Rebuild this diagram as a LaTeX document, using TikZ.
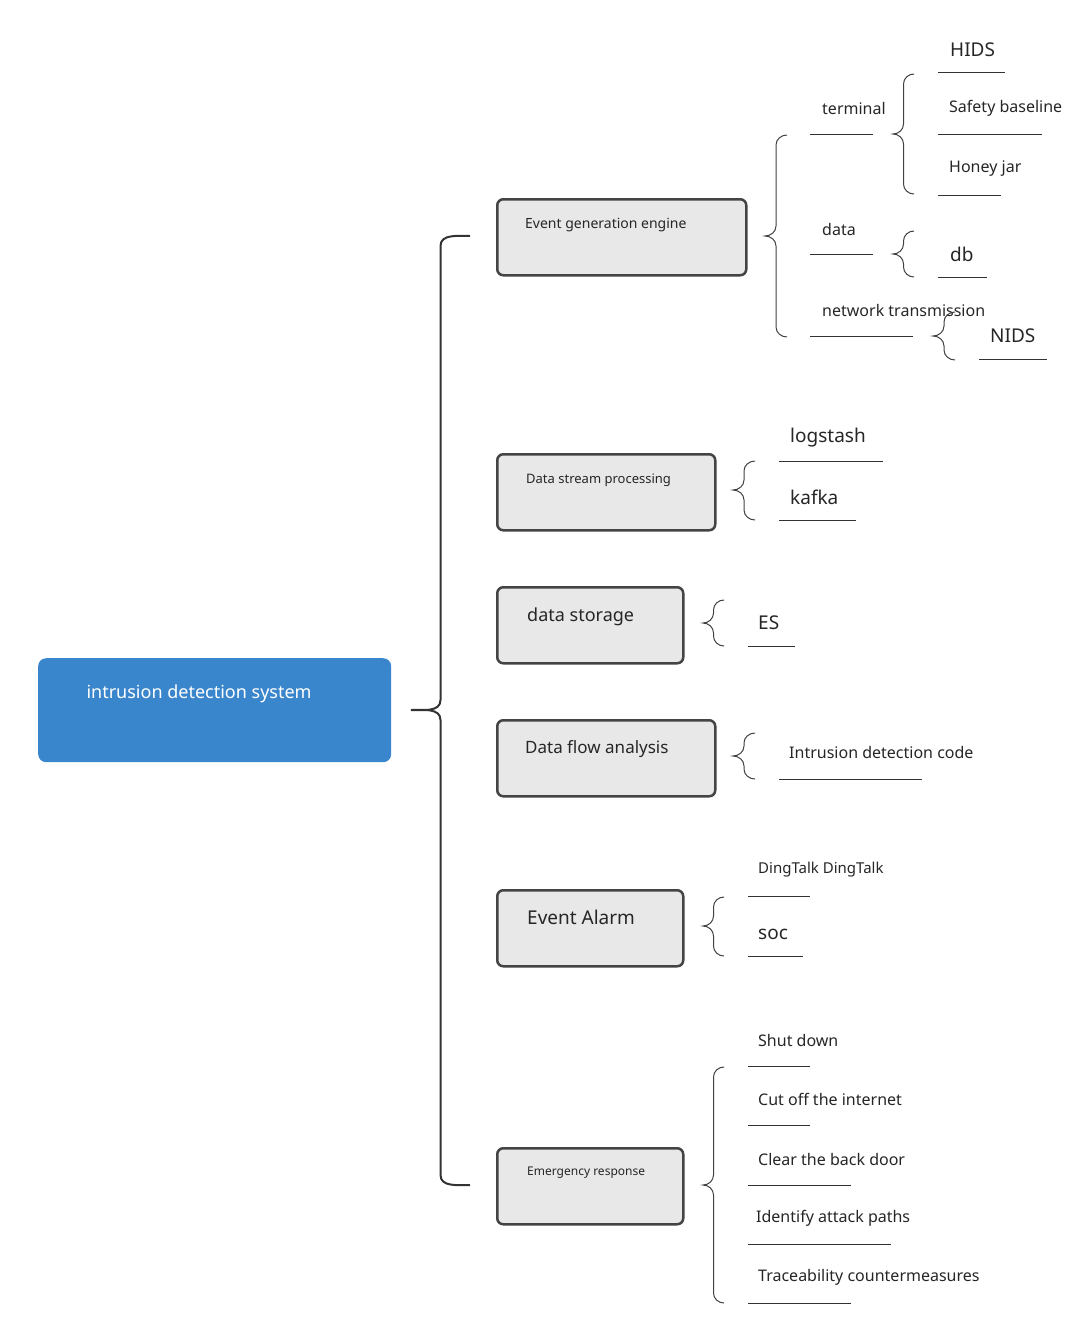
\documentclass[tikz,border=0pt]{standalone}
\usepackage{fontspec}
\setmainfont{Noto Sans}
\usetikzlibrary{positioning}
\definecolor{rootblue}{HTML}{3A86CC}
\definecolor{boxgray}{HTML}{E8E8E8}
\definecolor{linegray}{HTML}{444444}
\tikzset{
  topic/.style={draw=linegray,line width=2.5pt,fill=boxgray,rounded corners=6pt,anchor=north west,inner sep=0pt},
  leaf/.style={anchor=west,inner sep=0pt,text=black!85},
  uline/.style={draw=black!80,line width=1pt},
  brc/.style={draw=black!75,line width=1pt}
}
% curly brace: tip x, arms x, top y, bottom y, middle y
\newcommand{\brc}[6][brc]{%
  \pgfmathsetmacro{\xm}{(#2+#3)/2}%
  \draw[#1] (#3,#4) to[out=180,in=90] (\xm,#4+10) -- (\xm,#6-10)
    to[out=-90,in=0] (#2,#6) to[out=0,in=90] (\xm,#6+10) -- (\xm,#5-10)
    to[out=-90,in=180] (#3,#5);}
\begin{document}
\begin{tikzpicture}[x=1pt,y=-1pt]
\useasboundingbox (0,0) rectangle (1080,1323);
% root
\node[fill=rootblue,rounded corners=8pt,minimum width=353pt,minimum height=104pt,anchor=north west] (root) at (38,658) {};
\node[anchor=west,text=white,font=\fontsize{18}{20}\selectfont] at (83,694) {intrusion detection system};
\brc[brc,draw=black!80,line width=2pt]{411}{470}{236}{1185}{710}
% topics
\node[topic,minimum width=249pt,minimum height=76pt] (eng) at (496,198) {};
\node[leaf,font=\fontsize{14}{16}\selectfont] at (525,225) {Event generation engine};
\node[topic,minimum width=218pt,minimum height=76pt] (stream) at (496,453) {};
\node[leaf,font=\fontsize{13}{15}\selectfont] at (526,480) {Data stream processing};
\node[topic,minimum width=186pt,minimum height=76pt] (store) at (496,586) {};
\node[leaf,font=\fontsize{18}{20}\selectfont] at (527,617) {data storage};
\node[topic,minimum width=218pt,minimum height=76pt] (flow) at (496,719) {};
\node[leaf,font=\fontsize{17}{19}\selectfont] at (525,749) {Data flow analysis};
\node[topic,minimum width=186pt,minimum height=76pt] (alarm) at (496,889) {};
\node[leaf,font=\fontsize{19}{21}\selectfont] at (527,917) {Event Alarm};
\node[topic,minimum width=186pt,minimum height=76pt] (resp) at (496,1147) {};
\node[leaf,font=\fontsize{12}{14}\selectfont] at (527,1173) {Emergency response};
% event generation engine
\brc{765}{787}{135}{337}{236}
\node[leaf,font=\fontsize{16}{18}\selectfont] (term) at (822,108) {terminal};
\draw[uline] (810,134) -- (873,134);
\node[leaf,font=\fontsize{16}{18}\selectfont] (data) at (822,229) {data};
\draw[uline] (810,254) -- (873,254);
\node[leaf,font=\fontsize{16}{18}\selectfont] (net) at (822,310) {network transmission};
\draw[uline] (810,336) -- (913,336);
\brc{893}{914}{74}{194}{134}
\node[leaf,font=\fontsize{19}{21}\selectfont] (hids) at (950,50) {HIDS};
\draw[uline] (938,72) -- (1005,72);
\node[leaf,font=\fontsize{16}{18}\selectfont] (base) at (949,108) {Safety baseline};
\draw[uline] (938,134) -- (1042,134);
\node[leaf,font=\fontsize{16}{18}\selectfont] (honey) at (949,169) {Honey jar};
\draw[uline] (938,195) -- (1001,195);
\brc{893}{914}{231}{277}{254}
\node[leaf,font=\fontsize{19}{21}\selectfont] (db) at (950,254) {db};
\draw[uline] (938,277) -- (987,277);
\brc{933}{955}{312}{360}{336}
\node[leaf,font=\fontsize{19}{21}\selectfont] (nids) at (990,336) {NIDS};
\draw[uline] (979,359) -- (1047,359);
% data stream processing
\brc{733}{755}{461}{520}{490}
\node[leaf,font=\fontsize{19}{21}\selectfont] (logstash) at (790,438) {logstash};
\draw[uline] (779,461) -- (883,461);
\node[leaf,font=\fontsize{19}{21}\selectfont] (kafka) at (790,497) {kafka};
\draw[uline] (779,520) -- (856,520);
% data storage
\brc{703}{724}{600}{646}{623}
\node[leaf,font=\fontsize{19}{21}\selectfont] (es) at (758,623) {ES};
\draw[uline] (748,646) -- (795,646);
% data flow analysis
\brc{733}{755}{733}{779}{756}
\node[leaf,font=\fontsize{16}{18}\selectfont] (code) at (789,752) {Intrusion detection code};
\draw[uline] (779,779) -- (922,779);
% event alarm
\brc{703}{724}{897}{956}{926}
\node[leaf,font=\fontsize{15}{17}\selectfont] (ding) at (758,870) {DingTalk DingTalk};
\draw[uline] (748,896) -- (810,896);
\node[leaf,font=\fontsize{19}{21}\selectfont] (soc) at (758,934) {soc};
\draw[uline] (748,956) -- (803,956);
% emergency response
\brc{703}{724}{1067}{1303}{1185}
\node[leaf,font=\fontsize{16}{18}\selectfont] (shut) at (758,1040) {Shut down};
\draw[uline] (748,1066) -- (810,1066);
\node[leaf,font=\fontsize{16}{18}\selectfont] (cut) at (758,1099) {Cut off the internet};
\draw[uline] (748,1125) -- (810,1125);
\node[leaf,font=\fontsize{16}{18}\selectfont] (door) at (758,1159) {Clear the back door};
\draw[uline] (748,1185) -- (851,1185);
\node[leaf,font=\fontsize{16}{18}\selectfont] (paths) at (756,1218) {Identify attack paths};
\draw[uline] (748,1244) -- (891,1244);
\node[leaf,font=\fontsize{16}{18}\selectfont] (trace) at (758,1277) {Traceability countermeasures};
\draw[uline] (748,1303) -- (851,1303);
\end{tikzpicture}
\end{document}
